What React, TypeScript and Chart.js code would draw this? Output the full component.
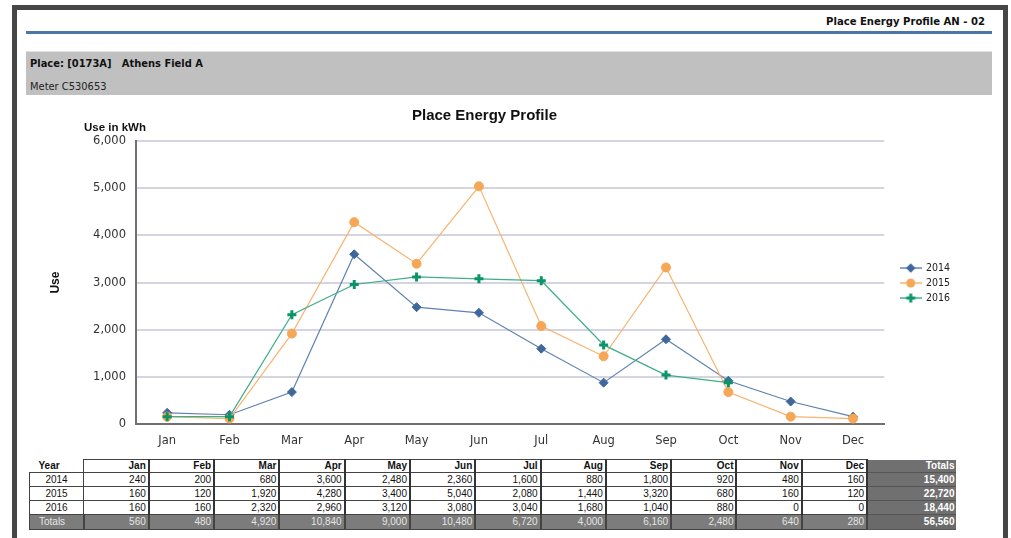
import React, { useEffect, useRef } from "react";
import { Chart, registerables } from "chart.js";

Chart.register(...registerables);

// ---------- data ----------
const months = ["Jan", "Feb", "Mar", "Apr", "May", "Jun", "Jul", "Aug", "Sep", "Oct", "Nov", "Dec"];
const years = ["2014", "2015", "2016"];
const use2014 = [240, 200, 680, 3600, 2480, 2360, 1600, 880, 1800, 920, 480, 160];
const use2015 = [160, 120, 1920, 4280, 3400, 5040, 2080, 1440, 3320, 680, 160, 120];
const use2016 = [160, 160, 2320, 2960, 3120, 3080, 3040, 1680, 1040, 880, 0, 0];
// 2016: Nov and Dec are not plotted on the chart
const plot2016 = [160, 160, 2320, 2960, 3120, 3080, 3040, 1680, 1040, 880, null, null];
const yMin = 0;
const yMax = 6000;
const yStep = 1000;

const tableRows = [use2014, use2015, use2016];
const plotRows = [use2014, use2015, plot2016];

// ---------- styles ----------
const seriesStyles = [
  { line: "#5f82b2", mark: "#3f679c", shape: "rectRot" },
  { line: "#f8b470", mark: "#f5a756", shape: "circle" },
  { line: "#3fae8a", mark: "#0b9467", shape: "cross" },
];

const NARROW = "'Liberation Sans Narrow', 'DejaVu Sans Condensed', 'Liberation Sans', sans-serif";
const TAHOMA = "'DejaVu Sans Condensed', 'DejaVu Sans', sans-serif";
const fmt = (v: number) => v.toLocaleString("en-US");

function makeIcon(shape: string, line: string, mark: string) {
  const c = document.createElement("canvas");
  c.width = 22;
  c.height = 12;
  const g = c.getContext("2d")!;
  g.strokeStyle = line;
  g.lineWidth = 1.5;
  g.beginPath();
  g.moveTo(0, 6);
  g.lineTo(22, 6);
  g.stroke();
  g.fillStyle = mark;
  g.strokeStyle = mark;
  if (shape === "circle") {
    g.beginPath();
    g.arc(11, 6, 4.5, 0, Math.PI * 2);
    g.fill();
  } else if (shape === "rectRot") {
    g.beginPath();
    g.moveTo(11, 1.3);
    g.lineTo(15.7, 6);
    g.lineTo(11, 10.7);
    g.lineTo(6.3, 6);
    g.closePath();
    g.fill();
  } else {
    g.lineWidth = 3;
    g.beginPath();
    g.moveTo(11, 1.5);
    g.lineTo(11, 10.5);
    g.moveTo(6.5, 6);
    g.lineTo(15.5, 6);
    g.stroke();
  }
  return c;
}

const unitLabel = {
  id: "unitLabel",
  afterDraw(chart: any) {
    const { ctx, chartArea } = chart;
    ctx.save();
    ctx.font = "bold 11.5px 'Liberation Sans', sans-serif";
    ctx.fillStyle = "#111";
    ctx.textAlign = "center";
    ctx.textBaseline = "middle";
    ctx.fillText("Use in kWh", chartArea.left - 21, chartArea.top - 13);
    ctx.restore();
  },
};

function EnergyChart() {
  const ref = useRef<HTMLCanvasElement | null>(null);
  useEffect(() => {
    if (!ref.current) return;
    const icons = seriesStyles.map((s) => makeIcon(s.shape, s.line, s.mark));
    const chart = new Chart(ref.current, {
      type: "line",
      data: {
        labels: months,
        datasets: years.map((y, i) => ({
          label: y,
          data: plotRows[i] as any,
          borderColor: seriesStyles[i].line,
          backgroundColor: seriesStyles[i].mark,
          borderWidth: 1.2,
          tension: 0,
          pointStyle: seriesStyles[i].shape as any,
          pointRadius: 4.5,
          pointBackgroundColor: seriesStyles[i].mark,
          pointBorderColor: seriesStyles[i].mark,
          pointBorderWidth: seriesStyles[i].shape === "cross" ? 3 : 1,
          order: 3 - i,
          spanGaps: false,
        })),
      },
      options: {
        animation: false,
        responsive: false,
        maintainAspectRatio: false,
        layout: { padding: 0 },
        plugins: {
          title: {
            display: true,
            text: "Place Energy Profile",
            color: "#111",
            font: { family: "'Liberation Sans', sans-serif", weight: "bold", size: 15 },
            padding: { top: 9, bottom: 16 },
          },
          legend: {
            position: "right",
            title: { display: true, text: " ", padding: 0, font: { size: 8.4 } },
            labels: {
              usePointStyle: true,
              pointStyleWidth: 20,
              padding: 4.5,
              color: "#222",
              font: { family: TAHOMA, size: 10.5 },
              generateLabels: () =>
                years.map((y, i) => ({
                  text: y,
                  pointStyle: icons[i] as any,
                  datasetIndex: i,
                  fillStyle: seriesStyles[i].mark,
                  strokeStyle: seriesStyles[i].mark,
                  lineWidth: 0,
                  hidden: false,
                  fontColor: "#222",
                })),
            },
          },
          tooltip: { enabled: false },
        },
        scales: {
          x: {
            offset: true,
            grid: { display: false, drawTicks: false },
            border: { display: true, color: "#707070", width: 2 },
            ticks: { padding: 10, color: "#333", font: { family: "'DejaVu Sans', sans-serif", size: 11.5 } },
          },
          y: {
            min: yMin,
            max: yMax,
            ticks: {
              stepSize: yStep,
              padding: 10,
              color: "#333",
              font: { family: "'DejaVu Sans', sans-serif", size: 11.5 },
              callback: (v: any) => fmt(Number(v)),
            },
            grid: { color: "#d4d4e2", lineWidth: 2, drawTicks: false },
            border: { color: "#707070", width: 2 },
            title: {
              display: true,
              text: "Use",
              color: "#111",
              font: { family: "'Liberation Sans', sans-serif", weight: "bold", size: 12 },
              padding: { top: 39, bottom: 0 },
            },
            afterFit: (s: any) => {
              s.width = 127;
            },
          },
          y2: {
            position: "right",
            display: true,
            grid: { display: false, drawTicks: false },
            border: { display: false },
            ticks: { display: false },
            afterFit: (s: any) => {
              s.width = 12;
            },
          },
        },
      } as any,
      plugins: [unitLabel],
    });
    return () => chart.destroy();
  }, []);
  return (
    <canvas
      ref={ref}
      width={951}
      height={360}
      style={{ position: "absolute", left: 9, top: 98, width: 951, height: 360 }}
    />
  );
}

const cellBorder = "1px solid #444";

function DataTable() {
  const colTotals = months.map((_, m) => tableRows.reduce((a, r) => a + r[m], 0));
  const rowTotals = tableRows.map((r) => r.reduce((a, b) => a + b, 0));
  const grand = rowTotals.reduce((a, b) => a + b, 0);
  const base: React.CSSProperties = {
    fontFamily: "'Liberation Sans', Arial, sans-serif",
    fontSize: 10,
    padding: "0 2px 0 0",
    textAlign: "right",
    whiteSpace: "nowrap",
    overflow: "hidden",
    lineHeight: "12px",
  };
  const mCell: React.CSSProperties = { ...base, borderLeft: cellBorder, borderRight: "2px solid #333", borderBottom: cellBorder, borderTop: cellBorder };
  const totCol: React.CSSProperties = { ...base, background: "#707070", color: "#fff", fontWeight: "bold", borderBottom: "1px solid #555", borderLeft: "1px solid #444" };
  const totRow: React.CSSProperties = { ...base, background: "#7c7c7c", color: "#e4e4e4", borderRight: "2px solid #444", borderBottom: "1px solid #444" };
  return (
    <table
      style={{
        position: "absolute",
        left: 29,
        top: 459,
        borderCollapse: "collapse",
        tableLayout: "fixed",
        width: 927,
      }}
    >
      <colgroup>
        <col style={{ width: 54 }} />
        {months.map((m) => (
          <col key={m} style={{ width: 65.3 }} />
        ))}
        <col style={{ width: 89.4 }} />
      </colgroup>
      <tbody>
        <tr style={{ height: 13 }}>
          <td style={{ ...base, textAlign: "left", paddingLeft: 9, fontWeight: "bold", color: "#111" }}>Year</td>
          {months.map((m) => (
            <td key={m} style={{ ...mCell, fontWeight: "bold", color: "#111" }}>
              {m}
            </td>
          ))}
          <td style={totCol}>Totals</td>
        </tr>
        {years.map((y, i) => (
          <tr key={y} style={{ height: 14 }}>
            <td style={{ ...base, textAlign: "center", padding: 0, border: cellBorder, color: "#111" }}>{y}</td>
            {tableRows[i].map((v, m) => (
              <td key={m} style={{ ...mCell, color: "#111" }}>
                {fmt(v)}
              </td>
            ))}
            <td style={totCol}>{fmt(rowTotals[i])}</td>
          </tr>
        ))}
        <tr style={{ height: 15 }}>
          <td style={{ ...totRow, textAlign: "left", paddingLeft: 9, borderLeft: cellBorder }}>Totals</td>
          {colTotals.map((v, m) => (
            <td key={m} style={totRow}>
              {fmt(v)}
            </td>
          ))}
          <td style={{ ...totCol, background: "#6a6a6a" }}>{fmt(grand)}</td>
        </tr>
      </tbody>
    </table>
  );
}

export default function App() {
  return (
    <div style={{ position: "absolute", left: 0, top: 0, width: 1011, height: 538, overflow: "hidden", background: "#fff" }}>
      {/* frame */}
      <div
        style={{
          position: "absolute",
          left: 12,
          top: 5,
          width: 996,
          height: 560,
          boxSizing: "border-box",
          borderTop: "5px solid #464646",
          borderLeft: "5px solid #464646",
          borderRight: "5px solid #464646",
        }}
      />
      <div
        style={{
          position: "absolute",
          right: 1011 - 985,
          top: 15,
          fontFamily: NARROW,
          fontWeight: "bold",
          fontSize: 11.2,
          color: "#111",
          whiteSpace: "nowrap",
        }}
      >
        Place Energy Profile AN - 02
      </div>
      <div style={{ position: "absolute", left: 26, top: 31, width: 966, height: 3, background: "#4a76aa" }} />
      <div
        style={{
          position: "absolute",
          left: 26,
          top: 51,
          width: 966,
          height: 44,
          background: "#c0c0c0",
          borderTop: "1px solid #e0e0e0",
          boxSizing: "border-box",
        }}
      >
        <div
          style={{
            position: "absolute",
            left: 4,
            top: 5,
            fontFamily: NARROW,
            fontWeight: "bold",
            fontSize: 11,
            color: "#111",
            whiteSpace: "pre",
          }}
        >
          {"Place: [0173A]   Athens Field A"}
        </div>
        <div
          style={{
            position: "absolute",
            left: 4,
            top: 28,
            fontFamily: NARROW,
            fontSize: 11,
            color: "#222",
            whiteSpace: "pre",
          }}
        >
          Meter C530653
        </div>
      </div>
      <EnergyChart />
      <DataTable />
    </div>
  );
}
